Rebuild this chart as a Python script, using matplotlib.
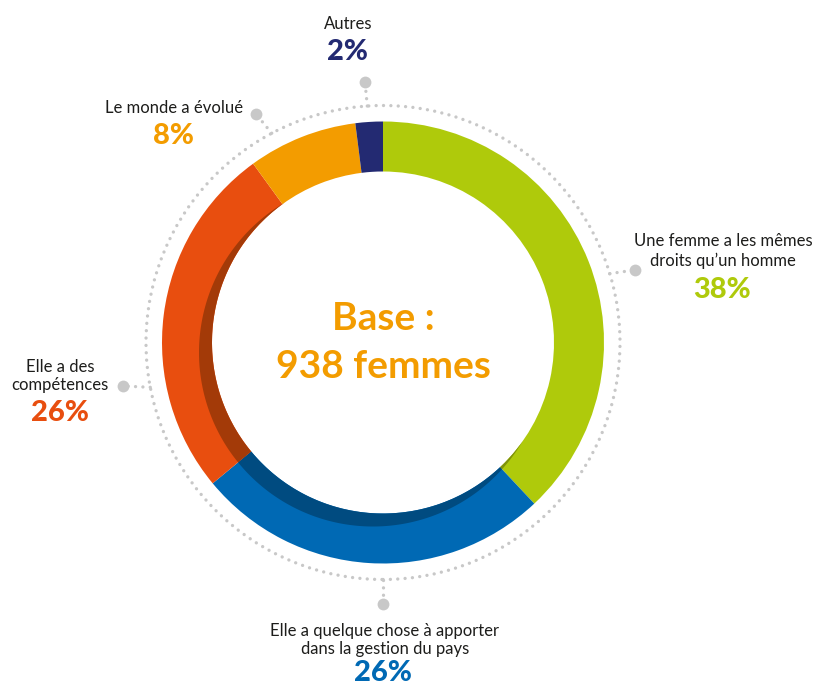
import matplotlib
matplotlib.use("Agg")
import matplotlib.pyplot as plt
import numpy as np
from matplotlib.patches import Circle

# ── data ────────────────────────────────────────────────────────────
labels = ["Une femme a les mêmes\ndroits qu\u2019un homme",
          "Elle a quelque chose à apporter\ndans la gestion du pays",
          "Elle a des\ncompétences",
          "Le monde a évolué",
          "Autres"]
values = [38, 26, 26, 8, 2]
colors = ["#AFCA0B", "#0069B4", "#E84E0F", "#F39C00", "#232A72"]
shades = ["#7E910A", "#004B80", "#A33A08", "#B37200", "#1A1F55"]
center_lines = ["Base :", "938 femmes"]

# ── layout (pixels, y from top) ─────────────────────────────────────
W, H = 814, 687
CX, CY = 383, 342.5
R_OUT, R_IN = 221, 171
R_DOT = 237
SH_OFF = np.array([-10.0, -10.0])   # shadow circle offset (down-left)
SH_R = 174
text_pos = [(723, 251), (385, 640), (60, 376), (174, 108), (348, 24)]
pct_pos = [(722, 290), (383, 673), (60, 413), (174, 136), (348, 52)]
dot_pos = [(635, 270), (383, 604), (123, 386), (256, 114), (365, 82)]
dot_ang = [16.9, 270, 190.9, 118, 93.8]

FONT = "Lato"
TXT = "#1D1D1B"
GREY = "#C8C8C8"
DOTS = (0, (0.01, 2.2))


def py(y):
    return H - y


fig = plt.figure(figsize=(W / 100, H / 100), dpi=100)
ax = fig.add_axes([0, 0, 1, 1])

cy = py(CY)
wedges, _ = ax.pie(values, colors=colors, startangle=90, counterclock=False,
                   radius=R_OUT, center=(CX, cy),
                   wedgeprops=dict(width=R_OUT - R_IN, linewidth=0))

# inner shadow: darker crescent along the inner edge, towards lower left
bounds = 90 - 3.6 * np.concatenate([[0], np.cumsum(values)])
for a0, a1, c in zip(bounds[:-1], bounds[1:], shades):
    th = np.radians(np.linspace(a1, a0, 200))
    u = np.stack([np.cos(th), np.sin(th)], axis=1)
    uo = u @ SH_OFF
    t = uo + np.sqrt(np.maximum(uo ** 2 - SH_OFF @ SH_OFF + SH_R ** 2, 0))
    t = np.clip(t, R_IN, R_OUT)
    outer = u * t[:, None]
    inner = u * R_IN
    poly = np.vstack([outer, inner[::-1]])
    ax.fill(CX + poly[:, 0], cy + poly[:, 1], color=c, lw=0)

# dotted outer ring
ring = Circle((CX, cy), R_DOT, fill=False, edgecolor=GREY, linewidth=2.4,
              linestyle=DOTS)
ring.set_capstyle("round")
ax.add_patch(ring)

for (dx, dy), a in zip(dot_pos, dot_ang):
    rx = CX + R_DOT * np.cos(np.radians(a))
    ry = cy + R_DOT * np.sin(np.radians(a))
    ax.plot([rx, dx], [ry, py(dy)], color=GREY, lw=2.4, linestyle=DOTS,
            dash_capstyle="round")
    ax.plot(dx, py(dy), "o", color=GREY, ms=8.5, mew=0)

for lab, (tx, ty), val, (px_, py_), c in zip(labels, text_pos, values, pct_pos, colors):
    ax.text(tx, py(ty), lab, ha="center", va="center", fontsize=12,
            family=FONT, color=TXT, linespacing=1.2)
    ax.text(px_, py(py_), f"{val}%", ha="center", va="center", fontsize=21,
            family=FONT, weight="black", color=c)

ax.text(CX, py(318), center_lines[0], ha="center", va="center", fontsize=28,
        family=FONT, weight="bold", color="#F39C00")
ax.text(CX, py(367), center_lines[1], ha="center", va="center", fontsize=28,
        family=FONT, weight="bold", color="#F39C00")

ax.set_xlim(0, W)
ax.set_ylim(0, H)
ax.set_aspect("auto")
ax.axis("off")

fig.savefig("out.png", dpi=100)
